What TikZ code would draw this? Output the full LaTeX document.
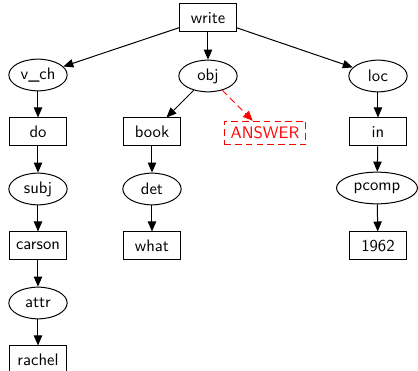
\documentclass[tikz,border=0pt]{standalone}
\usetikzlibrary{shapes.geometric,arrows.meta}
\begin{document}
\begin{tikzpicture}[x=0.6pt,y=-0.6pt,
  font=\sffamily,
  word/.style={draw,line width=0.6pt,rectangle,minimum width=34.2pt,minimum height=16.8pt,inner sep=0pt},
  rel/.style={draw,line width=0.6pt,ellipse,minimum width=35pt,minimum height=19pt,inner sep=0pt},
  gap/.style={draw=red,dashed,dash pattern=on 4pt off 2.5pt,line width=0.6pt,rectangle,text=red,minimum height=14pt,inner xsep=4pt,inner ysep=0pt},
  edge/.style={line width=0.6pt,-{Triangle[length=6pt,width=5pt]}},
  gapedge/.style={edge,red,dashed,dash pattern=on 4pt off 2.5pt}]
  \useasboundingbox (0,0) rectangle (418,371);

  % root
  \node[word] (write) at (208,18) {write};

  % relations under the root
  \node[rel] (vch) at (38,75) {v\_ch};
  \node[rel] (obj) at (208,76) {obj};
  \node[rel] (loc) at (378,76) {loc};

  \node[word] (do) at (38,132) {do};
  \node[word] (book) at (152,132) {book};
  \node[gap] (answer) at (265,133) {ANSWER};
  \node[word] (in) at (378,132) {in};

  \node[rel] (subj) at (38,189) {subj};
  \node[rel] (det) at (152,189) {det};
  \node[rel,minimum width=48.6pt] (pcomp) at (377,188) {pcomp};

  \node[word] (carson) at (38,246) {carson};
  \node[word] (what) at (152,246) {what};
  \node[word] (year) at (378,246) {1962};

  \node[rel] (attr) at (38,303) {attr};
  \node[word] (rachel) at (38,360) {rachel};

  % dependencies
  \draw[edge] (write) -- (vch);
  \draw[edge] (write) -- (obj);
  \draw[edge] (write) -- (loc);
  \draw[edge] (vch) -- (do);
  \draw[edge] (do) -- (subj);
  \draw[edge] (subj) -- (carson);
  \draw[edge] (carson) -- (attr);
  \draw[edge] (attr) -- (rachel);
  \draw[edge] (obj) -- (book);
  \draw[gapedge] (obj) -- (answer);
  \draw[edge] (book) -- (det);
  \draw[edge] (det) -- (what);
  \draw[edge] (loc) -- (in);
  \draw[edge] (in) -- (pcomp);
  \draw[edge] (pcomp) -- (year);
\end{tikzpicture}
\end{document}
